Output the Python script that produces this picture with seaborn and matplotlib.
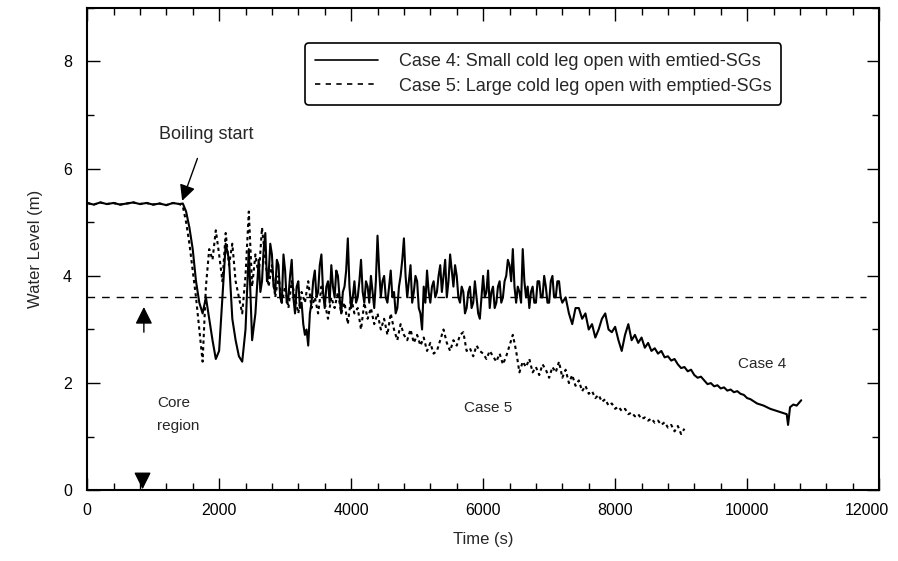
import numpy as np
import pandas as pd
import seaborn as sns
import matplotlib
matplotlib.use("Agg")
import matplotlib.pyplot as plt
from matplotlib.ticker import MultipleLocator
from matplotlib.transforms import ScaledTranslation

# ---------------- data ----------------
flat_t = [0, 100, 200, 300, 400, 500, 600, 700, 800, 900, 1000, 1100, 1200, 1300, 1400]
flat_h = [5.36, 5.33, 5.37, 5.34, 5.36, 5.33, 5.35, 5.37, 5.34, 5.36, 5.33, 5.35, 5.32, 5.36, 5.34]

# Case 4: small cold leg open with emptied SGs
case4_t = (flat_t + list(range(1450, 2551, 50)) + list(range(2600, 7201, 25))
           + list(range(7250, 10601, 50)) + [10620, 10650, 10700, 10750, 10820])
case4_h = flat_h + [
    # 1450 - 2550 (50 s)
    5.35, 5.2, 4.9, 4.5, 3.9, 3.5, 3.3, 3.6, 3.2, 2.8, 2.45, 2.6,
    3.6, 4.6, 4.3, 3.2, 2.8, 2.5, 2.4, 3.0, 4.5, 2.8, 3.3,
    # 2600 - 7200 (25 s)
    4.3, 3.7, 3.9, 4.5, 4.8, 3.9, 4.0, 4.6,
    4.4, 3.8, 3.7, 4.3, 4.2, 3.6, 3.5, 4.4,
    4.1, 3.5, 3.6, 4.0, 4.3, 3.6, 3.3, 3.8,
    3.9, 3.4, 3.5, 3.1, 2.9, 3.0, 2.7, 3.3,
    3.5, 3.9, 4.1, 3.6, 3.7, 4.2, 4.4, 3.7,
    3.4, 3.8, 3.9, 3.5, 4.2, 3.8, 3.6, 4.1,
    4.0, 3.6, 3.3, 3.7, 3.8, 4.1, 4.7, 3.8,
    3.4, 3.6, 3.9, 3.5, 3.6, 3.9, 4.3, 3.7,
    3.5, 3.9, 3.8, 3.5, 4.0, 3.7, 3.4, 3.9,
    4.75, 4.1, 3.6, 3.9, 4.0, 3.6, 3.5, 3.8,
    4.1, 3.6, 3.7, 3.3, 3.4, 3.8, 4.0, 4.3,
    4.7, 4.0, 3.6, 3.9, 4.2, 3.5, 3.7, 4.0,
    3.9, 3.4, 3.3, 3.0, 3.8, 3.5, 4.1, 3.7,
    3.5, 3.8, 3.9, 3.6, 3.7, 4.0, 4.2, 3.7,
    4.0, 4.3, 3.6, 3.9, 4.4, 4.1, 3.8, 4.2,
    4.0, 3.6, 3.5, 3.8, 3.7, 3.3, 3.4, 3.7,
    3.8, 3.4, 3.5, 3.9, 3.6, 3.3, 3.2, 3.6,
    4.0, 3.6, 3.7, 4.1, 3.4, 3.7, 3.8, 3.4,
    3.5, 3.8, 3.9, 3.5, 3.6, 3.9, 4.0, 4.3,
    4.2, 3.9, 4.5, 3.8, 3.5, 3.8, 3.7, 3.5,
    4.5, 3.9, 3.6, 3.8, 3.4, 3.7, 3.8, 3.5,
    3.5, 3.9, 3.9, 3.6, 3.6, 4.0, 3.8, 3.5,
    3.5, 3.9, 4.0, 3.6, 3.6, 3.9, 3.9, 3.6,
    3.5,
    # 7250 - 10600 (50 s)
    3.6, 3.3, 3.1, 3.4,
    3.4, 3.2, 3.3, 3.0,
    3.1, 2.85, 3.0, 3.2,
    3.3, 3.0, 2.95, 3.05,
    2.8, 2.6, 2.9, 3.1,
    2.8, 2.9, 2.75, 2.85,
    2.66, 2.75, 2.6, 2.65,
    2.55, 2.6, 2.48, 2.5,
    2.42, 2.45, 2.35, 2.28,
    2.3, 2.22, 2.25, 2.15,
    2.1, 2.12, 2.05, 1.98,
    2.0, 1.94, 1.96, 1.9,
    1.92, 1.86, 1.88, 1.83,
    1.85, 1.8, 1.78, 1.72,
    1.7, 1.66, 1.62, 1.6,
    1.58, 1.55, 1.52, 1.5,
    1.48, 1.46, 1.44, 1.42,
    # tail
    1.22, 1.55, 1.6, 1.58, 1.68]

# Case 5: large cold leg open with emptied SGs
case5_t = flat_t + list(range(1450, 7201, 50)) + list(range(7250, 9051, 50))
case5_h = flat_h + [
    5.3, 5.0, 4.6, 4.1, 3.6, 3.0, 2.4, 3.8, 4.5, 4.3, 4.85, 4.4, 3.9, 4.8, 4.2, 4.6,
    3.9, 3.6, 3.3, 4.0, 5.2, 3.8, 4.4, 4.0, 4.9, 4.3, 3.8, 4.2, 3.6, 4.0, 3.5, 3.8,
    3.4, 3.9, 3.6, 3.3, 3.7, 3.5, 3.9, 3.4, 3.6, 3.3, 3.8, 3.5, 3.2, 3.6, 3.4, 3.7,
    3.3, 3.5, 3.1, 3.6, 3.3, 3.4, 3.0, 3.5, 3.2, 3.4, 3.1, 3.3, 3.0, 3.2, 2.9, 3.3,
    3.0, 2.8, 3.1, 2.9, 2.8, 3.0, 2.75, 2.9, 2.7, 2.85, 2.6, 2.75, 2.55, 2.6, 2.8, 3.0,
    2.75, 2.6, 2.8, 2.7, 2.9, 2.95, 2.6, 2.65, 2.5, 2.7, 2.6, 2.55, 2.45, 2.6, 2.5, 2.4,
    2.55, 2.35, 2.5, 2.7, 2.9, 2.6, 2.2, 2.4, 2.3, 2.45, 2.2, 2.3, 2.15, 2.35, 2.25, 2.1,
    2.3, 2.2, 2.4, 2.1,
    # 7250 - 9050 (50 s)
    2.25, 2.0, 2.15, 1.95,
    2.05, 1.85, 1.95, 1.8,
    1.85, 1.72, 1.78, 1.65,
    1.7, 1.58, 1.62, 1.52,
    1.56, 1.48, 1.52, 1.42,
    1.45, 1.38, 1.42, 1.33,
    1.36, 1.3, 1.34, 1.26,
    1.3, 1.22, 1.27, 1.17,
    1.22, 1.1, 1.2, 1.05,
    1.15]

core_top_level = 3.6
core_line_end = 11800

x_ticks = [0, 2000, 4000, 6000, 8000, 10000, 12000]
y_ticks = [0, 2, 4, 6, 8]

legend_labels = ["Case 4: Small cold leg open with emtied-SGs",
                 "Case 5: Large cold leg open with emptied-SGs"]

# ---------------- figure ----------------
sns.set_style("ticks")
plt.rcParams["font.family"] = ["Liberation Sans", "DejaVu Sans"]

fig = plt.figure(figsize=(8.98, 5.61), dpi=100)
ax = fig.add_axes([0.097, 0.126, 0.882, 0.860])

df4 = pd.DataFrame({"t": case4_t, "h": case4_h})
df5 = pd.DataFrame({"t": case5_t, "h": case5_h})

sns.lineplot(data=df4, x="t", y="h", ax=ax, color="black", lw=1.5,
             label=legend_labels[0], estimator=None, sort=False)
sns.lineplot(data=df5, x="t", y="h", ax=ax, color="black", lw=1.5,
             label=legend_labels[1], estimator=None, sort=False)
ax.lines[1].set_dashes([1.6, 1.6])

ax.hlines(core_top_level, 0, core_line_end, colors="black", lw=1.0,
          linestyles=(0, (5.5, 5)))

ax.set_xlim(0, 12000)
ax.set_ylim(0, 9)
ax.set_xticks(x_ticks)
ax.set_yticks(y_ticks)
ax.xaxis.set_minor_locator(MultipleLocator(400))
ax.yaxis.set_minor_locator(MultipleLocator(1))
ax.tick_params(which="both", direction="in", top=True, right=True,
               labelsize=11.5, width=1.0, colors="black")
ax.tick_params(which="major", length=9)
ax.tick_params(which="minor", length=5)
ax.tick_params(axis="y", pad=11)
ax.tick_params(axis="x", pad=9)
for s in ax.spines.values():
    s.set_linewidth(1.5)
    s.set_color("black")

ax.set_xlabel("Time (s)", fontsize=12, labelpad=10)
ax.set_ylabel("Water Level (m)", fontsize=12, labelpad=14)

leg = ax.legend(loc="upper left", bbox_to_anchor=(0.275, 0.927),
                borderaxespad=0, fontsize=13, frameon=True, fancybox=True,
                handlelength=3.5, handletextpad=1.15, borderpad=0.55,
                labelspacing=0.42, edgecolor="black")
leg.get_frame().set_linewidth(1.2)
leg.get_frame().set_alpha(1)
leg.get_lines()[0].set_linewidth(1.2)
leg.get_lines()[1].set_linewidth(1.2)
leg.get_lines()[1].set_dashes([3.2, 3.2])

ax.annotate("Boiling start", xy=(1440, 5.4), xytext=(1800, 6.63),
            ha="center", va="center", fontsize=13,
            arrowprops=dict(arrowstyle="-|>", color="black", lw=1.0,
                            mutation_scale=24, shrinkA=9, shrinkB=0))

ax.annotate("", xy=(860, 3.42), xytext=(860, 2.95),
            arrowprops=dict(arrowstyle="-|>", color="black", lw=1.0,
                            mutation_scale=26, shrinkA=0, shrinkB=0))
ax.annotate("", xy=(840, 0.02), xytext=(840, 0.28),
            arrowprops=dict(arrowstyle="-|>", color="black", lw=1.0,
                            mutation_scale=26, shrinkA=0, shrinkB=0))

ax.text(1060, 1.63, "Core", fontsize=11, ha="left", va="center")
ax.text(1060, 1.20, "region", fontsize=11, ha="left", va="center")
ax.text(10230, 2.36, "Case 4", fontsize=11, ha="center", va="center")
ax.text(6075, 1.54, "Case 5", fontsize=11, ha="center", va="center")

# keep the last x tick label inside the figure (as in the reference)
fig.canvas.draw()
for tick in ax.xaxis.get_major_ticks():
    if tick.get_loc() == x_ticks[-1]:
        tick.label1.set_transform(tick.label1.get_transform()
                                  + ScaledTranslation(-9 / 72, 0, fig.dpi_scale_trans))

fig.savefig("out.png", dpi=100)
